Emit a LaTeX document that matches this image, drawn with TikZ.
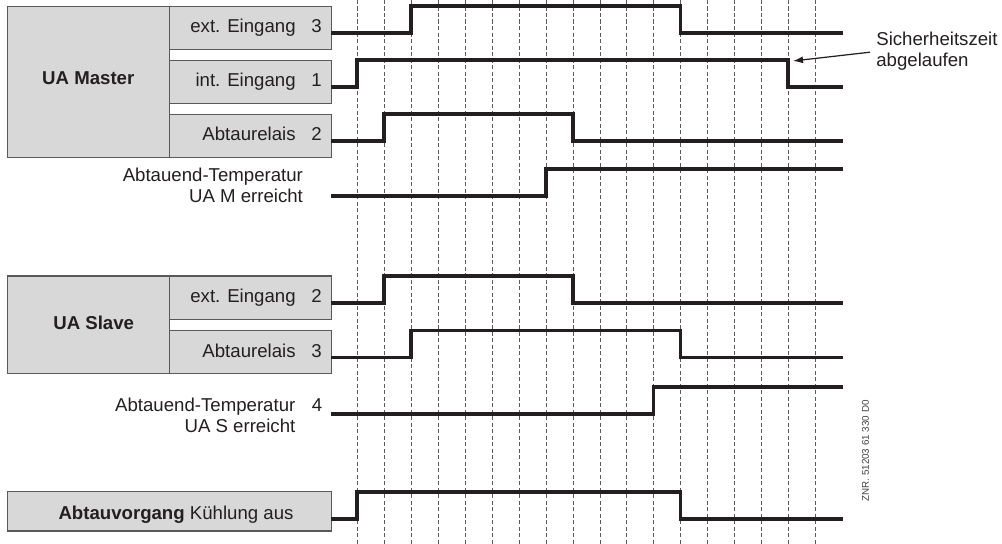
\documentclass[tikz,border=0pt]{standalone}
\usepackage{fontspec}
\setmainfont{Liberation Sans}
\usetikzlibrary{arrows.meta}
\definecolor{kastengrau}{RGB}{216,216,216}
\definecolor{tinte}{RGB}{35,31,32}
\tikzset{
  kasten/.style={draw=black!65, fill=kastengrau, line width=.6pt},
  pegel/.style={draw=tinte, line width=1.9pt, line join=miter},
  raster/.style={draw=black!65, line width=.45pt, dash pattern=on 2.3pt off 1.4pt},
  beschr/.style={inner sep=0pt, anchor=base east, text=tinte,
    font=\fontsize{10.6}{11.8}\selectfont},
}
\begin{document}
\begin{tikzpicture}[x=.2mm,y=-.2mm]
\useasboundingbox (0,0) rectangle (1002,544);
% Zeitraster
\draw[raster] (357,0) -- (357,544); \draw[raster] (384,0) -- (384,544); \draw[raster] (411,0) -- (411,544);
\draw[raster] (438,0) -- (438,544); \draw[raster] (465,0) -- (465,544); \draw[raster] (492,0) -- (492,544);
\draw[raster] (519,0) -- (519,544); \draw[raster] (546,0) -- (546,544); \draw[raster] (573,0) -- (573,544);
\draw[raster] (600,0) -- (600,544); \draw[raster] (626.5,0) -- (626.5,544); \draw[raster] (653.5,0) -- (653.5,544);
\draw[raster] (680.5,0) -- (680.5,544); \draw[raster] (707.5,0) -- (707.5,544); \draw[raster] (734.5,0) -- (734.5,544);
\draw[raster] (761,0) -- (761,544); \draw[raster] (788,0) -- (788,544); \draw[raster] (815,0) -- (815,544);
% UA Master
\draw[kasten] (7.3,6.7) rectangle (169.3,157.3);
\draw[kasten] (169.3,6.7) rectangle (331.7,49.3);
\draw[kasten] (169.3,60.7) rectangle (331.7,103.3);
\draw[kasten] (169.3,114.7) rectangle (331.7,157.3);
\node[beschr, anchor=base, font=\fontsize{10.6}{11.8}\selectfont\bfseries] (master) at (88.3,85) {UA Master};
\node[beschr] (mext) at (296,33) {ext. Eingang}; \node[beschr] (mextnr) at (322,33) {3};
\node[beschr] (mint) at (296,87) {int. Eingang}; \node[beschr] (mintnr) at (322,87) {1};
\node[beschr] (mrel) at (296,141) {Abtaurelais}; \node[beschr] (mrelnr) at (322,141) {2};
\node[beschr, align=right] (mtemp) at (303.3,202.7) {Abtauend-Temperatur\\UA M erreicht};
% UA Slave
\draw[kasten] (7.3,276) rectangle (169.3,373.3);
\draw[kasten] (169.3,276) rectangle (331.7,319.3);
\draw[kasten] (169.3,330.7) rectangle (331.7,373.3);
\node[beschr, anchor=base, font=\fontsize{10.6}{11.8}\selectfont\bfseries] (slave) at (93.7,330) {UA Slave};
\node[beschr] (sext) at (296,303) {ext. Eingang}; \node[beschr] (sextnr) at (322,303) {2};
\node[beschr] (srel) at (296,357.5) {Abtaurelais}; \node[beschr] (srelnr) at (322,357.5) {3};
\node[beschr, align=right] (stemp) at (295.7,432.3) {Abtauend-Temperatur\\UA S erreicht};
\node[beschr] (stempnr) at (322.7,411.7) {4};
% Abtauvorgang
\draw[kasten] (7.3,491.7) rectangle (331.7,531);
\node[beschr, anchor=base] (abtau) at (176,519.3) {\textbf{Abtauvorgang} K\"uhlung aus};
% Pegel
\draw[pegel] (331,33) -- (411,33) -- (411,6) -- (680.5,6) -- (680.5,33) -- (843,33);
\draw[pegel] (331,87) -- (357,87) -- (357,60) -- (788,60) -- (788,87) -- (843,87);
\draw[pegel] (331,141) -- (384,141) -- (384,114) -- (573,114) -- (573,141) -- (843,141);
\draw[pegel] (331,196) -- (546,196) -- (546,169) -- (843,169);
\draw[pegel] (331,303) -- (384,303) -- (384,276) -- (573,276) -- (573,303) -- (843,303);
\draw[pegel] (331,357.5) -- (411,357.5) -- (411,330.5) -- (680.5,330.5) -- (680.5,357.5) -- (843,357.5);
\draw[pegel] (331,414) -- (653.5,414) -- (653.5,387) -- (843,387);
\draw[pegel] (331,519) -- (357,519) -- (357,492) -- (680.5,492) -- (680.5,519) -- (843,519);
% Sicherheitszeit
\node[beschr, anchor=base west, align=left] (sicher) at (876,66.7) {Sicherheitszeit\\abgelaufen};
\coordinate (ablauf) at (793,61);
\draw[tinte, line width=.7pt, -{Latex[length=2mm,width=1.4mm]}, shorten <=1.2mm] (sicher.west) -- (ablauf);
% Zeichnungsnummer
\node[inner sep=0pt, rotate=90, text=black!75, font=\fontsize{5.6}{6}\selectfont] (znr) at (865.5,451) {ZNR. 51203 61 330 D0};
\end{tikzpicture}
\end{document}
